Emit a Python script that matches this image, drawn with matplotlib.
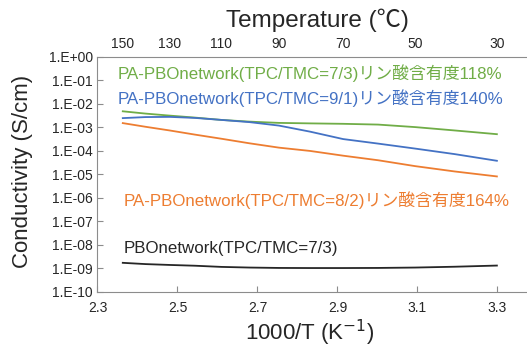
import numpy as np
import matplotlib
matplotlib.use('Agg')
import matplotlib.pyplot as plt
from matplotlib.ticker import FixedLocator, FuncFormatter, NullLocator

plt.rcParams['font.family'] = ['Liberation Sans', 'Noto Sans CJK JP', 'DejaVu Sans']

# measurement temperatures (deg C)
temps = [150, 140, 130, 120, 110, 100, 90, 80, 70, 60, 50, 40, 30]
inv_t = [1000.0 / (t + 273.15) for t in temps]

# conductivity (S/cm)
pa_73 = [4.7e-3, 3.75e-3, 3.08e-3, 2.54e-3, 2.02e-3, 1.71e-3, 1.51e-3,
         1.44e-3, 1.38e-3, 1.28e-3, 1.0e-3, 7.2e-4, 5.0e-4]
pa_91 = [2.41e-3, 2.67e-3, 2.72e-3, 2.46e-3, 2.02e-3, 1.63e-3, 1.16e-3,
         6.4e-4, 3.1e-4, 1.99e-4, 1.22e-4, 7.1e-5, 3.7e-5]
pa_82 = [1.48e-3, 1.03e-3, 7.2e-4, 4.8e-4, 3.2e-4, 2.05e-4, 1.34e-4,
         9.7e-5, 6.1e-5, 3.9e-5, 2.19e-5, 1.30e-5, 8.0e-6]
pbo_73 = [1.7e-9, 1.5e-9, 1.38e-9, 1.28e-9, 1.14e-9, 1.07e-9, 1.03e-9,
          1.02e-9, 1.02e-9, 1.03e-9, 1.07e-9, 1.16e-9, 1.30e-9]

labels = ['PA-PBOnetwork(TPC/TMC=7/3)リン酸含有度118%',
          'PA-PBOnetwork(TPC/TMC=9/1)リン酸含有度140%',
          'PA-PBOnetwork(TPC/TMC=8/2)リン酸含有度164%',
          'PBOnetwork(TPC/TMC=7/3)']
colors = ['#70AD47', '#4472C4', '#ED7D31', '#262626']

x_ticks = [2.3, 2.5, 2.7, 2.9, 3.1, 3.3]
top_ticks = [150, 130, 110, 90, 70, 50, 30]

fig = plt.figure(figsize=(5.27, 3.49), dpi=100)
ax = fig.add_axes([0.185, 0.164, 0.815, 0.674])

for ys, c in zip([pa_73, pa_91, pa_82, pbo_73], colors):
    ax.plot(inv_t, ys, color=c, lw=1.3)

ax.set_yscale('log')
ax.set_ylim(1e-10, 1)
ax.set_xlim(2.3, 3.374)
ax.yaxis.set_major_locator(FixedLocator([10.0 ** e for e in range(-10, 1)]))
ax.yaxis.set_minor_locator(NullLocator())
ax.yaxis.set_major_formatter(FuncFormatter(lambda v, p: '1.E%+03d' % int(round(np.log10(v)))))
ax.set_xticks(x_ticks)
ax.set_xticklabels(['%.1f' % v for v in x_ticks])

for s in ['left', 'bottom', 'top']:
    ax.spines[s].set_color('#8c8c8c')
ax.spines['right'].set_visible(False)
ax.tick_params(direction='in', length=4, color='#8c8c8c', labelsize=10, labelcolor='#262626')
ax.tick_params(axis='x', pad=7)

top = ax.secondary_xaxis('top', functions=(lambda x: 1000.0 / x - 273.15,
                                           lambda t: 1000.0 / (t + 273.15)))
top.set_xticks(top_ticks)
top.set_xticklabels([str(t) for t in top_ticks])
top.tick_params(length=0, labelsize=10, labelcolor='#262626', pad=4)
top.spines['top'].set_visible(False)

# series annotations
ax.text(2.351, 0.2, labels[0], color=colors[0], fontsize=12.2, va='center')
ax.text(2.351, 0.017, labels[1], color=colors[1], fontsize=12.2, va='center')
ax.text(2.366, 7.8e-7, labels[2], color=colors[2], fontsize=12.2, va='center')
ax.text(2.366, 7.1e-9, labels[3], color=colors[3], fontsize=12.2, va='center')

fig.text(0.603, 0.943, 'Temperature (℃)', fontsize=17.5, ha='center', va='center', color='#262626')
fig.text(0.042, 0.51, 'Conductivity (S/cm)', fontsize=16, ha='center', va='center',
         rotation=90, color='#262626')
fig.text(0.587, 0.045, '1000/T (K$^{-1}$)', fontsize=16, ha='center', va='center', color='#262626')

fig.savefig('out.png', dpi=100)
